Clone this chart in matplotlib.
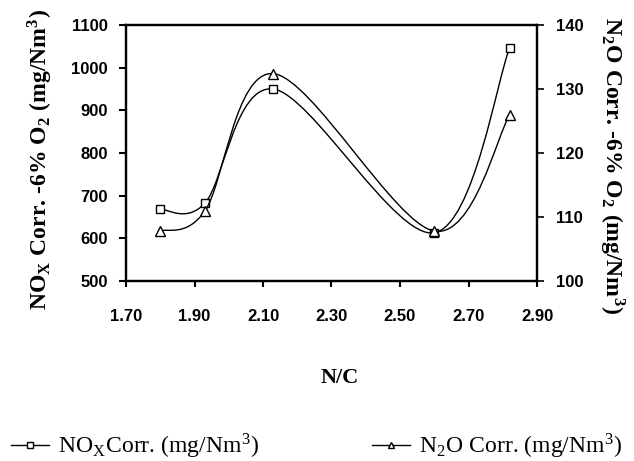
import matplotlib.pyplot as plt
from matplotlib.path import Path
from matplotlib.patches import PathPatch
from matplotlib.lines import Line2D

plt.rcParams['mathtext.fontset'] = 'stix'

# values
nc = [1.80, 1.93, 2.13, 2.60, 2.82]
nox = [668, 682, 950, 613, 1046]
n2o = [107.8, 110.9, 132.4, 107.8, 125.9]

x_ticks = [1.70, 1.90, 2.10, 2.30, 2.50, 2.70, 2.90]
nox_ticks = [500, 600, 700, 800, 900, 1000, 1100]
n2o_ticks = [100, 110, 120, 130, 140]

tick_font = {'family': ['Liberation Sans', 'DejaVu Sans'], 'weight': 'bold', 'size': 12}
serif = ['Liberation Serif', 'DejaVu Serif']


def smooth_path(xs, ys):
    # excel-like smoothed line: catmull-rom segments as cubic beziers
    pts = list(zip(xs, ys))
    n = len(pts)
    verts = [pts[0]]
    codes = [Path.MOVETO]
    for i in range(n - 1):
        p0 = pts[max(i - 1, 0)]
        p1 = pts[i]
        p2 = pts[i + 1]
        p3 = pts[min(i + 2, n - 1)]
        c1 = (p1[0] + (p2[0] - p0[0]) / 6, p1[1] + (p2[1] - p0[1]) / 6)
        c2 = (p2[0] - (p3[0] - p1[0]) / 6, p2[1] - (p3[1] - p1[1]) / 6)
        verts += [c1, c2, p2]
        codes += [Path.CURVE4] * 3
    return Path(verts, codes)


fig = plt.figure(figsize=(6.34, 4.61), dpi=100)
ax = fig.add_axes([126 / 634, 1 - 281 / 461, 411 / 634, 256 / 461])
ax2 = ax.twinx()

ax.add_patch(PathPatch(smooth_path(nc, nox), fill=False, color='k', lw=1.0))
ax.plot(nc, nox, ls='none', marker='s', ms=6, mfc='white', mec='k', mew=1.0, zorder=3)
ax2.add_patch(PathPatch(smooth_path(nc, n2o), fill=False, color='k', lw=1.0))
ax2.plot(nc, n2o, ls='none', marker='^', ms=7, mfc='white', mec='k', mew=1.0, zorder=3)

ax.set_xlim(1.70, 2.90)
ax.set_ylim(500, 1100)
ax2.set_ylim(100, 140)
ax.set_xticks(x_ticks)
ax.set_xticklabels([f'{t:.2f}' for t in x_ticks], fontdict=tick_font)
ax.set_yticks(nox_ticks)
ax.set_yticklabels([str(t) for t in nox_ticks], fontdict=tick_font)
ax2.set_yticks(n2o_ticks)
ax2.set_yticklabels([str(t) for t in n2o_ticks], fontdict=tick_font)

for a in (ax, ax2):
    for s in a.spines.values():
        s.set_linewidth(1.6)
ax.tick_params(axis='x', direction='out', length=4, width=1.5, pad=16)
ax.tick_params(axis='y', direction='out', length=5, width=1.5, pad=8)
ax2.tick_params(axis='y', direction='out', length=5, width=1.2, pad=9)

fig.text(40 / 634, 1 - 160 / 461,
         r'NO$_\mathregular{X}$ Corr. -6% O$_\mathregular{2}$ (mg/Nm$^\mathregular{3}$)',
         rotation=90, ha='center', va='center', fontsize=17, fontweight='bold', family=serif)
fig.text(612 / 634, 1 - 166 / 461,
         r'N$_\mathregular{2}$O Corr. -6% O$_\mathregular{2}$ (mg/Nm$^\mathregular{3}$)',
         rotation=270, ha='center', va='center', fontsize=17, fontweight='bold', family=serif)
fig.text(340 / 634, 1 - 378 / 461, 'N/C', ha='center', va='center',
         fontsize=16, fontweight='bold', family=serif)

h1 = Line2D([], [], color='k', lw=1.0, marker='s', ms=5, mfc='white', mec='k')
h2 = Line2D([], [], color='k', lw=1.0, marker='^', ms=5, mfc='white', mec='k')
leg_font = {'family': serif, 'size': 17}
l1 = fig.legend([h1], [r'NO$_\mathregular{X}$Corr. (mg/Nm$^\mathregular{3}$)'], loc='center left',
                bbox_to_anchor=(11 / 634, 1 - 446 / 461), frameon=False, prop=leg_font,
                handlelength=1.6, handletextpad=0.4, borderpad=0, borderaxespad=0)
l2 = fig.legend([h2], [r'N$_\mathregular{2}$O Corr. (mg/Nm$^\mathregular{3}$)'], loc='center left',
                bbox_to_anchor=(372 / 634, 1 - 446 / 461), frameon=False, prop=leg_font,
                handlelength=1.6, handletextpad=0.4, borderpad=0, borderaxespad=0)

fig.savefig('out.png', dpi=100)
